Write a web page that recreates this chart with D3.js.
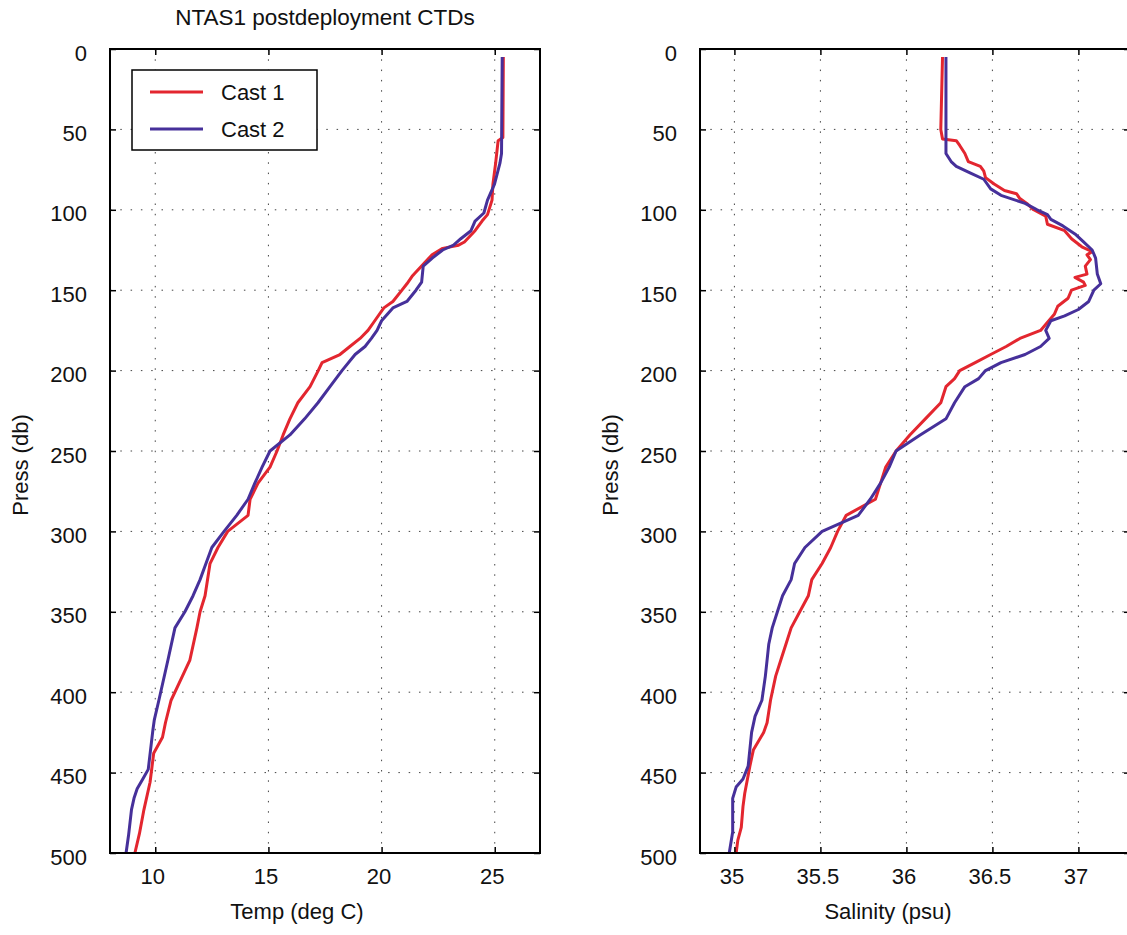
<!DOCTYPE html>
<html>
<head>
<meta charset="utf-8">
<script src="https://cdn.jsdelivr.net/npm/d3@7"></script>
<style>
body { margin: 0; background: #fff; }
svg { font-family: 'Liberation Sans', Arial, Helvetica, sans-serif; }
</style>
</head>
<body>
<svg id="chart" width="1127" height="935"></svg>
<script>
// values, pressure in db
const cast1TempPress = [5, 55, 57, 71, 84, 94, 103, 107, 113, 120, 122, 124, 128, 133, 139, 141, 146, 150, 157, 161, 169, 175, 180, 185, 190, 195, 200, 210, 220, 230, 240, 250, 260, 270, 280, 290, 300, 310, 320, 340, 350, 360, 380, 390, 405, 419, 428, 438, 456, 473, 488, 500];
const cast1Temp = [25.38, 25.36, 25.15, 25.04, 24.92, 24.88, 24.68, 24.44, 24.13, 23.66, 23.4, 22.7, 22.23, 21.9, 21.5, 21.37, 21.12, 20.9, 20.5, 20.1, 19.7, 19.4, 19.05, 18.6, 18.16, 17.37, 17.2, 16.84, 16.3, 15.95, 15.65, 15.38, 15.07, 14.54, 14.19, 14.1, 13.2, 12.77, 12.42, 12.2, 11.98, 11.84, 11.53, 11.2, 10.7, 10.45, 10.32, 9.93, 9.77, 9.5, 9.3, 9.1];

const cast2TempPress = [5, 65, 71, 84, 94, 102, 107, 113, 118, 122, 125, 130, 135, 145, 150, 157, 161, 169, 175, 180, 185, 190, 200, 210, 220, 230, 240, 250, 260, 270, 280, 290, 300, 310, 320, 330, 340, 350, 360, 380, 405, 417, 423, 448, 454, 460, 466, 473, 489, 500];
const cast2Temp = [25.33, 25.3, 25.23, 24.99, 24.68, 24.52, 24.13, 23.95, 23.5, 23.18, 22.7, 22.24, 21.84, 21.77, 21.52, 21.12, 20.5, 20.0, 19.8, 19.55, 19.27, 18.83, 18.25, 17.72, 17.19, 16.6, 15.95, 15.07, 14.72, 14.4, 14.1, 13.6, 13.04, 12.5, 12.24, 11.98, 11.67, 11.31, 10.87, 10.56, 10.16, 9.96, 9.9, 9.69, 9.45, 9.2, 9.06, 8.95, 8.82, 8.71];

const cast1SalPress = [5, 50, 56, 57, 60, 65, 70, 73, 76, 80, 84, 88, 90, 93, 96, 100, 104, 109, 113, 118, 123, 126, 128, 131, 135, 140, 142, 145, 147, 150, 155, 160, 165, 175, 180, 185, 190, 195, 200, 205, 210, 220, 230, 240, 250, 260, 270, 280, 290, 300, 310, 320, 330, 340, 350, 360, 370, 380, 390, 405, 419, 425, 436, 446, 463, 471, 484, 492, 500];
const cast1Sal = [36.21, 36.2, 36.21, 36.29, 36.31, 36.34, 36.36, 36.43, 36.45, 36.46, 36.51, 36.57, 36.64, 36.66, 36.70, 36.74, 36.81, 36.82, 36.92, 36.96, 37.02, 37.08, 37.05, 37.07, 37.04, 37.05, 36.98, 37.03, 37.04, 36.96, 36.94, 36.88, 36.86, 36.78, 36.66, 36.58, 36.49, 36.40, 36.31, 36.28, 36.23, 36.2, 36.11, 36.02, 35.94, 35.88, 35.85, 35.82, 35.65, 35.6, 35.56, 35.51, 35.45, 35.43, 35.38, 35.33, 35.3, 35.27, 35.24, 35.21, 35.19, 35.17, 35.11, 35.09, 35.06, 35.05, 35.04, 35.02, 35.01];

const cast2SalPress = [5, 55, 65, 70, 73, 77, 81, 87, 91, 96, 100, 103, 106, 110, 115, 120, 125, 130, 140, 146, 150, 157, 162, 166, 169, 175, 180, 185, 190, 195, 200, 205, 210, 220, 230, 240, 250, 260, 270, 280, 290, 300, 310, 320, 330, 340, 350, 360, 370, 380, 390, 405, 415, 425, 446, 454, 459, 466, 487, 500];
const cast2Sal = [36.23, 36.23, 36.23, 36.26, 36.29, 36.37, 36.45, 36.49, 36.55, 36.69, 36.76, 36.82, 36.84, 36.91, 36.98, 37.03, 37.08, 37.10, 37.11, 37.13, 37.09, 37.06, 37.00, 36.92, 36.84, 36.81, 36.83, 36.78, 36.69, 36.55, 36.46, 36.42, 36.34, 36.28, 36.23, 36.08, 35.94, 35.90, 35.85, 35.79, 35.72, 35.51, 35.41, 35.35, 35.33, 35.28, 35.25, 35.22, 35.2, 35.19, 35.18, 35.16, 35.12, 35.10, 35.08, 35.05, 35.01, 34.99, 34.99, 34.97];

const castNames = ['Cast 1', 'Cast 2'];
const pressTicks = [0, 50, 100, 150, 200, 250, 300, 350, 400, 450, 500];
const tempTicks = [10, 15, 20, 25];
const salTicks = [35, 35.5, 36, 36.5, 37];

const colors = { cast1: '#e3262f', cast2: '#46309a', grid: '#444' };
const TOP = 49, BOTTOM = 853, FONT = 22;

const svg = d3.select('#chart');
const y = d3.scaleLinear().domain([0, 500]).range([TOP, BOTTOM]);

function makePanel(opts) {
   let panel = {};
   let x = d3.scaleLinear().domain(opts.xDomain).range([opts.left, opts.right]);
   panel.x = x;
   let g = svg.append('g');

   // dotted grid
   g.selectAll('.hgrid').data(pressTicks.slice(1, -1)).enter().append('line')
       .attr('x1', opts.left).attr('x2', opts.right)
       .attr('y1', d => y(d)).attr('y2', d => y(d))
       .attr('stroke', colors.grid).attr('stroke-dasharray', '1.5,8.8');
   g.selectAll('.vgrid').data(opts.xTicks).enter().append('line')
       .attr('x1', d => x(d)).attr('x2', d => x(d))
       .attr('y1', TOP).attr('y2', BOTTOM)
       .attr('stroke', colors.grid).attr('stroke-dasharray', '1.5,8.8');

   let line = d3.line().x(d => x(d[0])).y(d => y(d[1]));
   opts.series.forEach(s => {
       g.append('path')
           .datum(s.values.map((v, i) => [v, s.press[i]]))
           .attr('fill', 'none')
           .attr('stroke', s.color)
           .attr('stroke-width', 3)
           .attr('stroke-linejoin', 'round')
           .attr('d', line);
   });

   // axes, ticks pointing inward on all four sides
   let left = g.append('g').attr('transform', `translate(${opts.left},0)`)
       .call(d3.axisLeft(y).tickValues(pressTicks).tickSize(-6).tickPadding(23));
   left.selectAll('text').attr('dy', '0.5em');
   g.append('g').attr('transform', `translate(${opts.right},0)`)
       .call(d3.axisRight(y).tickValues(pressTicks).tickSize(-6).tickFormat(''));
   let bottom = g.append('g').attr('transform', `translate(0,${BOTTOM})`)
       .call(d3.axisBottom(x).tickValues(opts.xTicks).tickSize(-6).tickPadding(15).tickFormat(d3.format('')));
   bottom.selectAll('text').attr('dx', -3);
   g.append('g').attr('transform', `translate(0,${TOP})`)
       .call(d3.axisTop(x).tickValues(opts.xTicks).tickSize(-6).tickFormat(''));
   g.selectAll('.domain').remove();
   g.selectAll('.tick line').attr('stroke', '#000').attr('stroke-width', 1.5);
   g.selectAll('.tick text').attr('font-size', FONT).attr('font-family', null).attr('fill', '#111');

   g.append('rect')
       .attr('x', opts.left).attr('y', TOP)
       .attr('width', opts.right - opts.left).attr('height', BOTTOM - TOP)
       .attr('fill', 'none').attr('stroke', '#000').attr('stroke-width', 2);

   g.append('text')
       .attr('x', opts.xLabelX).attr('y', 919)
       .attr('text-anchor', 'middle').attr('font-size', FONT).attr('fill', '#111')
       .text(opts.xLabel);
   g.append('text')
       .attr('transform', `translate(${opts.left - 82},465) rotate(-90)`)
       .attr('text-anchor', 'middle').attr('font-size', FONT).attr('fill', '#111')
       .text('Press (db)');

   panel.g = g;
   return panel;
}

let tempPanel = makePanel({
   left: 110, right: 540, xDomain: [8, 27], xTicks: tempTicks,
   xLabel: 'Temp (deg C)', xLabelX: 297,
   series: [
       { press: cast1TempPress, values: cast1Temp, color: colors.cast1 },
       { press: cast2TempPress, values: cast2Temp, color: colors.cast2 }
   ]
});

makePanel({
   left: 700, right: 1130, xDomain: [34.8, 37.3], xTicks: salTicks,
   xLabel: 'Salinity (psu)', xLabelX: 888,
   series: [
       { press: cast1SalPress, values: cast1Sal, color: colors.cast1 },
       { press: cast2SalPress, values: cast2Sal, color: colors.cast2 }
   ]
});

svg.append('text')
   .attr('x', 325).attr('y', 25)
   .attr('text-anchor', 'middle').attr('font-size', 22.5).attr('fill', '#111')
   .text('NTAS1 postdeployment CTDs');

// legend
let legend = tempPanel.g.append('g');
legend.append('rect')
   .attr('x', 132).attr('y', 70).attr('width', 185).attr('height', 80)
   .attr('fill', '#fff').attr('stroke', '#000').attr('stroke-width', 1.5);
[colors.cast1, colors.cast2].forEach((c, i) => {
   let ly = 92 + i * 37;
   legend.append('line')
       .attr('x1', 150).attr('x2', 203).attr('y1', ly).attr('y2', ly)
       .attr('stroke', c).attr('stroke-width', 3);
   legend.append('text')
       .attr('x', 221).attr('y', ly + 8)
       .attr('font-size', FONT).attr('fill', '#111')
       .text(castNames[i]);
});
</script>
</body>
</html>
